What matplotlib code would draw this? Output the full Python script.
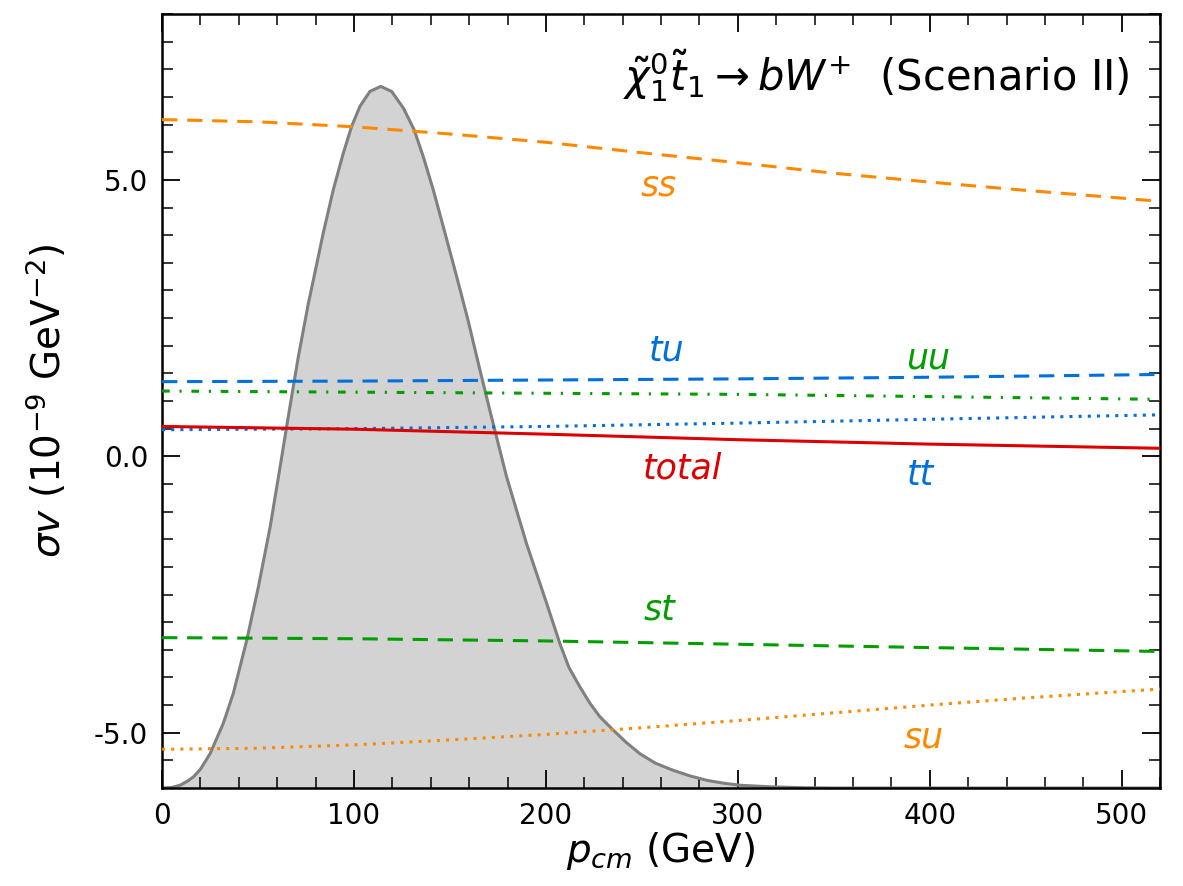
import matplotlib
matplotlib.use('Agg')
import matplotlib.pyplot as plt
from matplotlib.ticker import MultipleLocator

plt.rcParams['font.family'] = 'DejaVu Sans'
plt.rcParams['mathtext.fontset'] = 'dejavusans'
plt.rcParams['axes.unicode_minus'] = False

# sigma*v contributions (10^-9 GeV^-2) versus p_cm (GeV)
p_ss = [0, 50, 100, 150, 200, 250, 300, 350, 400, 450, 500, 520]
sv_ss = [6.09, 6.05, 5.96, 5.83, 5.68, 5.49, 5.31, 5.12, 4.96, 4.81, 4.67, 4.61]

p_lin = [0, 100, 200, 300, 400, 520]
sv_tu = [1.35, 1.36, 1.38, 1.40, 1.43, 1.48]
sv_uu = [1.18, 1.16, 1.14, 1.12, 1.08, 1.03]
sv_tt = [0.48, 0.50, 0.54, 0.60, 0.67, 0.75]
sv_total = [0.54, 0.49, 0.40, 0.30, 0.22, 0.145]
sv_st = [-3.28, -3.30, -3.34, -3.40, -3.46, -3.53]

p_su = [0, 50, 100, 150, 200, 250, 300, 350, 400, 450, 520]
sv_su = [-5.30, -5.28, -5.22, -5.13, -5.03, -4.91, -4.78, -4.64, -4.50, -4.37, -4.21]

# momentum distribution (arbitrary scale, drawn on the same axis)
p_dist = [0, 5, 9.4, 13, 16.3, 20, 25, 31.9, 37.1, 44.1, 50.2, 56.3, 61.5,
          66.3, 71.0, 76.2, 79.2, 84.0, 89.2, 94.4, 98.8, 103.1, 108.3, 113.9,
          119.6, 125.7, 131.3, 136.1, 141.3, 147.4, 153.5, 159.5, 165, 170.8,
          175, 179.5, 189.9, 200.4, 207.3, 212, 217.7, 223, 228.1, 235, 242,
          249, 257, 266.3, 275, 283.7, 292, 301, 318, 335, 350, 520]
f_dist = [-6.0, -5.99, -5.95, -5.88, -5.80, -5.66, -5.38, -4.83, -4.29, -3.33,
          -2.36, -1.28, -0.19, 0.83, 1.80, 2.76, 3.25, 4.04, 4.82, 5.48, 5.97,
          6.33, 6.60, 6.69, 6.60, 6.30, 5.91, 5.42, 4.82, 4.04, 3.25, 2.45,
          1.65, 0.83, 0.25, -0.37, -1.58, -2.66, -3.39, -3.82, -4.17, -4.47,
          -4.71, -4.95, -5.18, -5.38, -5.55, -5.68, -5.78, -5.86, -5.91,
          -5.95, -5.98, -5.995, -6.0, -6.0]

orange = '#ff8800'
blue = '#0070dd'
green = '#009e00'
red = '#dd0000'

fig = plt.figure(figsize=(11.83, 8.86), dpi=100)
ax = fig.add_axes([0.137, 0.1106, 0.8436, 0.8736])

ax.fill_between(p_dist, -6, f_dist, color='#d3d3d3', zorder=1)
ax.plot(p_dist, f_dist, color='#808080', lw=2.2, zorder=2,
        solid_joinstyle='round')

lw = 2.2
dashed = (0, (5, 3.2))
dotted = (0, (1, 2))
ax.plot(p_ss, sv_ss, color=orange, lw=lw, ls=dashed, zorder=3)
ax.plot(p_lin, sv_tu, color=blue, lw=lw, ls=dashed, zorder=3)
ax.plot(p_lin, sv_uu, color=green, lw=lw, ls=(0, (2.5, 3.2, 0.7, 3.2)), zorder=3)
ax.plot(p_lin, sv_tt, color=blue, lw=lw, ls=dotted, zorder=3)
ax.plot(p_lin, sv_total, color=red, lw=lw, zorder=4)
ax.plot(p_lin, sv_st, color=green, lw=lw, ls=dashed, zorder=3)
ax.plot(p_su, sv_su, color=orange, lw=lw, ls=dotted, zorder=3)

lab = dict(fontsize=25, style='italic', ha='center', va='center')
ax.text(259, 4.9, 'ss', color=orange, **lab)
ax.text(263, 1.92, 'tu', color=blue, **lab)
ax.text(399, 1.77, 'uu', color=green, **lab)
ax.text(271, -0.22, 'total', color=red, **lab)
ax.text(395, -0.34, 'tt', color=blue, **lab)
ax.text(259, -2.78, 'st', color=green, **lab)
ax.text(397, -5.08, 'su', color=orange, **lab)

ax.text(504, 6.89, r'$\tilde{\chi}_1^0\tilde{t}_1 \rightarrow bW^{+}$  (Scenario II)',
        fontsize=30, ha='right', va='center')

ax.set_xlim(0, 520)
ax.set_ylim(-6, 8)
ax.xaxis.set_major_locator(MultipleLocator(100))
ax.xaxis.set_minor_locator(MultipleLocator(20))
ax.yaxis.set_major_locator(MultipleLocator(5))
ax.yaxis.set_minor_locator(MultipleLocator(0.5))
ax.yaxis.set_major_formatter('{x:.1f}')
ax.tick_params(which='both', direction='in', top=True, right=True, labelsize=20)
ax.tick_params(which='major', length=13, width=1.3, pad=10)
ax.tick_params(which='minor', length=8, width=1.1)
for s in ax.spines.values():
    s.set_linewidth(1.8)

ax.set_xlabel(r'$p_{cm}$ (GeV)', fontsize=28, labelpad=0)
ax.set_ylabel(r'$\sigma v$ $(10^{-9}$ GeV$^{-2})$', fontsize=28, labelpad=18)

fig.savefig('out.png', dpi=100)
